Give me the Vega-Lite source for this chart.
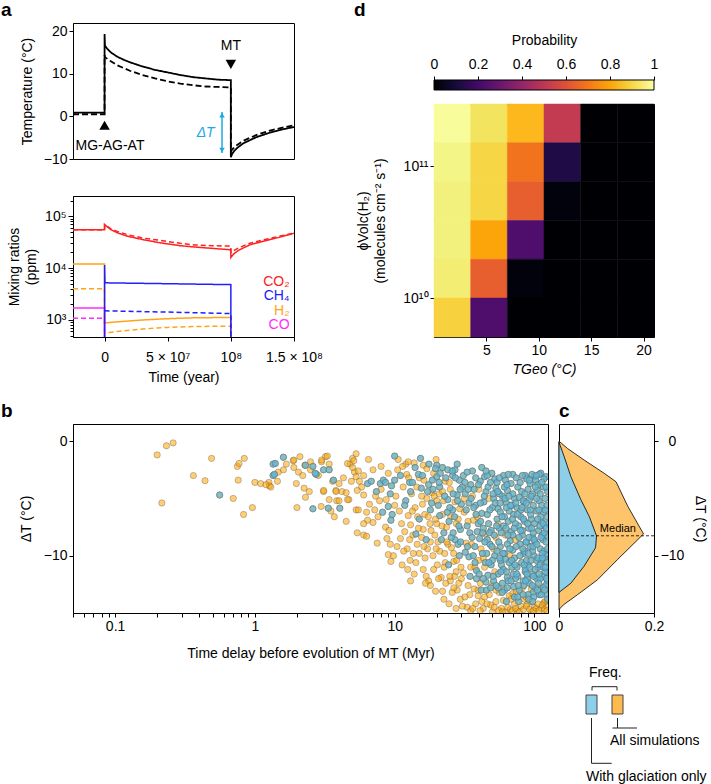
{
"$schema":"https://vega.github.io/schema/vega-lite/v6.json",
"padding":0,
"background":"white",
"config":{
 "font":"Liberation Sans",
 "view":{"stroke":"black","strokeWidth":1},
 "axis":{"grid":false,"domainColor":"black","tickColor":"black","labelColor":"black","titleColor":"black","labelFontSize":14,"titleFontSize":14,"titleFontWeight":"normal","tickSize":4,"labelPadding":2,"titlePadding":4,"labelFont":"Liberation Sans","titleFont":"Liberation Sans","labelFlush":false,"labelOverlap":false},
 "title":{"fontSize":19,"fontWeight":"bold","anchor":"start","frame":"group","baseline":"alphabetic","offset":3,"color":"black","font":"Liberation Sans"}
},
"datasets":{
 "temp":[
  {"s":"a","i":0,"t":-25000000,"v":0.9},{"s":"a","i":1,"t":0,"v":0.9},{"s":"a","i":2,"t":0,"v":19.3},{"s":"a","i":3,"t":300000,"v":16.6},{"s":"a","i":4,"t":2000000,"v":15.9},{"s":"a","i":5,"t":5000000,"v":15.0},{"s":"a","i":6,"t":10000000,"v":14.0},{"s":"a","i":7,"t":15000000,"v":13.3},{"s":"a","i":8,"t":20000000,"v":12.7},{"s":"a","i":9,"t":30000000,"v":11.7},{"s":"a","i":10,"t":40000000,"v":10.9},{"s":"a","i":11,"t":50000000,"v":10.3},{"s":"a","i":12,"t":60000000,"v":9.7},{"s":"a","i":13,"t":70000000,"v":9.2},{"s":"a","i":14,"t":80000000,"v":8.9},{"s":"a","i":15,"t":90000000,"v":8.6},{"s":"a","i":16,"t":100000000,"v":8.5},{"s":"a","i":17,"t":100000000,"v":-9.6},{"s":"a","i":18,"t":101000000,"v":-8.8},{"s":"a","i":19,"t":103000000,"v":-8.0},{"s":"a","i":20,"t":105000000,"v":-7.4},{"s":"a","i":21,"t":110000000,"v":-6.3},{"s":"a","i":22,"t":120000000,"v":-4.9},{"s":"a","i":23,"t":130000000,"v":-3.9},{"s":"a","i":24,"t":140000000,"v":-3.1},{"s":"a","i":25,"t":150000000,"v":-2.5},
  {"s":"b","i":0,"t":-25000000,"v":0.5},{"s":"b","i":1,"t":0,"v":0.5},{"s":"b","i":2,"t":0,"v":14.4},{"s":"b","i":3,"t":300000,"v":13.9},{"s":"b","i":4,"t":5000000,"v":12.9},{"s":"b","i":5,"t":10000000,"v":12.0},{"s":"b","i":6,"t":20000000,"v":10.7},{"s":"b","i":7,"t":30000000,"v":9.7},{"s":"b","i":8,"t":40000000,"v":8.9},{"s":"b","i":9,"t":50000000,"v":8.2},{"s":"b","i":10,"t":60000000,"v":7.7},{"s":"b","i":11,"t":70000000,"v":7.3},{"s":"b","i":12,"t":80000000,"v":7.0},{"s":"b","i":13,"t":90000000,"v":6.9},{"s":"b","i":14,"t":100000000,"v":6.8},{"s":"b","i":15,"t":100000000,"v":-8.3},{"s":"b","i":16,"t":101000000,"v":-7.8},{"s":"b","i":17,"t":103000000,"v":-7.2},{"s":"b","i":18,"t":105000000,"v":-6.7},{"s":"b","i":19,"t":110000000,"v":-5.7},{"s":"b","i":20,"t":120000000,"v":-4.4},{"s":"b","i":21,"t":130000000,"v":-3.4},{"s":"b","i":22,"t":140000000,"v":-2.7},{"s":"b","i":23,"t":150000000,"v":-2.1}
 ],
 "mix":[
  {"sp":"H2","ls":"s","i":0,"t":-25000000,"v":12000},{"sp":"H2","ls":"s","i":1,"t":0,"v":12000},{"sp":"H2","ls":"s","i":2,"t":0,"v":880},{"sp":"H2","ls":"s","i":3,"t":10000000,"v":920},{"sp":"H2","ls":"s","i":4,"t":30000000,"v":1000},{"sp":"H2","ls":"s","i":5,"t":50000000,"v":1060},{"sp":"H2","ls":"s","i":6,"t":70000000,"v":1100},{"sp":"H2","ls":"s","i":7,"t":100000000,"v":1120},{"sp":"H2","ls":"s","i":8,"t":100000000,"v":1},
  {"sp":"H2","ls":"d","i":0,"t":-25000000,"v":4000},{"sp":"H2","ls":"d","i":1,"t":0,"v":4000},{"sp":"H2","ls":"d","i":2,"t":0,"v":560},{"sp":"H2","ls":"d","i":3,"t":10000000,"v":600},{"sp":"H2","ls":"d","i":4,"t":30000000,"v":670},{"sp":"H2","ls":"d","i":5,"t":50000000,"v":720},{"sp":"H2","ls":"d","i":6,"t":70000000,"v":750},{"sp":"H2","ls":"d","i":7,"t":100000000,"v":760},{"sp":"H2","ls":"d","i":8,"t":100000000,"v":1},
  {"sp":"CO","ls":"s","i":0,"t":-25000000,"v":1700},{"sp":"CO","ls":"s","i":1,"t":0,"v":1700},{"sp":"CO","ls":"s","i":2,"t":0,"v":1},
  {"sp":"CO","ls":"d","i":0,"t":-25000000,"v":1080},{"sp":"CO","ls":"d","i":1,"t":0,"v":1080},{"sp":"CO","ls":"d","i":2,"t":0,"v":1},
  {"sp":"CO2","ls":"s","i":0,"t":-25000000,"v":55000},{"sp":"CO2","ls":"s","i":1,"t":0,"v":55000},{"sp":"CO2","ls":"s","i":2,"t":0,"v":69000},{"sp":"CO2","ls":"s","i":3,"t":2000000,"v":63000},{"sp":"CO2","ls":"s","i":4,"t":5000000,"v":55000},{"sp":"CO2","ls":"s","i":5,"t":10000000,"v":48000},{"sp":"CO2","ls":"s","i":6,"t":18300000,"v":41000},{"sp":"CO2","ls":"s","i":7,"t":30000000,"v":35500},{"sp":"CO2","ls":"s","i":8,"t":44700000,"v":30500},{"sp":"CO2","ls":"s","i":9,"t":60000000,"v":27000},{"sp":"CO2","ls":"s","i":10,"t":71000000,"v":25500},{"sp":"CO2","ls":"s","i":11,"t":85000000,"v":24000},{"sp":"CO2","ls":"s","i":12,"t":100000000,"v":22500},{"sp":"CO2","ls":"s","i":13,"t":100000000,"v":16000},{"sp":"CO2","ls":"s","i":14,"t":102000000,"v":18500},{"sp":"CO2","ls":"s","i":15,"t":106000000,"v":22000},{"sp":"CO2","ls":"s","i":16,"t":115000000,"v":28000},{"sp":"CO2","ls":"s","i":17,"t":126000000,"v":33000},{"sp":"CO2","ls":"s","i":18,"t":138000000,"v":39000},{"sp":"CO2","ls":"s","i":19,"t":150000000,"v":47000},
  {"sp":"CO2","ls":"d","i":0,"t":-25000000,"v":55000},{"sp":"CO2","ls":"d","i":1,"t":0,"v":55000},{"sp":"CO2","ls":"d","i":2,"t":0,"v":69000},{"sp":"CO2","ls":"d","i":3,"t":2000000,"v":64000},{"sp":"CO2","ls":"d","i":4,"t":5000000,"v":57000},{"sp":"CO2","ls":"d","i":5,"t":10000000,"v":51000},{"sp":"CO2","ls":"d","i":6,"t":18300000,"v":44000},{"sp":"CO2","ls":"d","i":7,"t":30000000,"v":38000},{"sp":"CO2","ls":"d","i":8,"t":44700000,"v":34000},{"sp":"CO2","ls":"d","i":9,"t":60000000,"v":30000},{"sp":"CO2","ls":"d","i":10,"t":71000000,"v":28000},{"sp":"CO2","ls":"d","i":11,"t":85000000,"v":27000},{"sp":"CO2","ls":"d","i":12,"t":100000000,"v":26500},{"sp":"CO2","ls":"d","i":13,"t":100000000,"v":20000},{"sp":"CO2","ls":"d","i":14,"t":102000000,"v":21500},{"sp":"CO2","ls":"d","i":15,"t":106000000,"v":24500},{"sp":"CO2","ls":"d","i":16,"t":115000000,"v":30000},{"sp":"CO2","ls":"d","i":17,"t":126000000,"v":35000},{"sp":"CO2","ls":"d","i":18,"t":138000000,"v":41000},{"sp":"CO2","ls":"d","i":19,"t":150000000,"v":47000},
  {"sp":"CH4","ls":"s","i":0,"t":0,"v":1},{"sp":"CH4","ls":"s","i":1,"t":0,"v":11500},{"sp":"CH4","ls":"s","i":2,"t":300000,"v":5200},{"sp":"CH4","ls":"s","i":3,"t":50000000,"v":5000},{"sp":"CH4","ls":"s","i":4,"t":100000000,"v":4800},{"sp":"CH4","ls":"s","i":5,"t":100000000,"v":1},
  {"sp":"CH4","ls":"d","i":0,"t":0,"v":1500},{"sp":"CH4","ls":"d","i":1,"t":50000000,"v":1420},{"sp":"CH4","ls":"d","i":2,"t":100000000,"v":1330},{"sp":"CH4","ls":"d","i":3,"t":100000000,"v":1}
 ],
 "heat":[
  {"x0":0,"x1":3.5,"y0":1.51e11,"y1":2.97e11,"p":0.99},{"x0":3.5,"x1":7,"y0":1.51e11,"y1":2.97e11,"p":0.93},{"x0":7,"x1":10.5,"y0":1.51e11,"y1":2.97e11,"p":0.84},{"x0":10.5,"x1":14,"y0":1.51e11,"y1":2.97e11,"p":0.52},{"x0":14,"x1":17.5,"y0":1.51e11,"y1":2.97e11,"p":0},{"x0":17.5,"x1":21,"y0":1.51e11,"y1":2.97e11,"p":0},
  {"x0":0,"x1":3.5,"y0":7.65e10,"y1":1.51e11,"p":0.97},{"x0":3.5,"x1":7,"y0":7.65e10,"y1":1.51e11,"p":0.9},{"x0":7,"x1":10.5,"y0":7.65e10,"y1":1.51e11,"p":0.69},{"x0":10.5,"x1":14,"y0":7.65e10,"y1":1.51e11,"p":0.12},{"x0":14,"x1":17.5,"y0":7.65e10,"y1":1.51e11,"p":0},{"x0":17.5,"x1":21,"y0":7.65e10,"y1":1.51e11,"p":0},
  {"x0":0,"x1":3.5,"y0":3.88e10,"y1":7.65e10,"p":0.96},{"x0":3.5,"x1":7,"y0":3.88e10,"y1":7.65e10,"p":0.9},{"x0":7,"x1":10.5,"y0":3.88e10,"y1":7.65e10,"p":0.64},{"x0":10.5,"x1":14,"y0":3.88e10,"y1":7.65e10,"p":0.02},{"x0":14,"x1":17.5,"y0":3.88e10,"y1":7.65e10,"p":0},{"x0":17.5,"x1":21,"y0":3.88e10,"y1":7.65e10,"p":0},
  {"x0":0,"x1":3.5,"y0":1.97e10,"y1":3.88e10,"p":0.96},{"x0":3.5,"x1":7,"y0":1.97e10,"y1":3.88e10,"p":0.8},{"x0":7,"x1":10.5,"y0":1.97e10,"y1":3.88e10,"p":0.23},{"x0":10.5,"x1":14,"y0":1.97e10,"y1":3.88e10,"p":0},{"x0":14,"x1":17.5,"y0":1.97e10,"y1":3.88e10,"p":0},{"x0":17.5,"x1":21,"y0":1.97e10,"y1":3.88e10,"p":0},
  {"x0":0,"x1":3.5,"y0":1e10,"y1":1.97e10,"p":0.95},{"x0":3.5,"x1":7,"y0":1e10,"y1":1.97e10,"p":0.64},{"x0":7,"x1":10.5,"y0":1e10,"y1":1.97e10,"p":0.02},{"x0":10.5,"x1":14,"y0":1e10,"y1":1.97e10,"p":0},{"x0":14,"x1":17.5,"y0":1e10,"y1":1.97e10,"p":0},{"x0":17.5,"x1":21,"y0":1e10,"y1":1.97e10,"p":0},
  {"x0":0,"x1":3.5,"y0":5.07e9,"y1":1e10,"p":0.89},{"x0":3.5,"x1":7,"y0":5.07e9,"y1":1e10,"p":0.23},{"x0":7,"x1":10.5,"y0":5.07e9,"y1":1e10,"p":0},{"x0":10.5,"x1":14,"y0":5.07e9,"y1":1e10,"p":0},{"x0":14,"x1":17.5,"y0":5.07e9,"y1":1e10,"p":0},{"x0":17.5,"x1":21,"y0":5.07e9,"y1":1e10,"p":0}
 ],
 "pts":[
  {"t":0.2,"d":-1.2,"g":0},{"t":0.233,"d":-0.4,"g":0},{"t":0.26,"d":-0.15,"g":0},{"t":0.216,"d":-5.4,"g":0},{"t":0.363,"d":-3.0,"g":0},{"t":0.44,"d":-3.45,"g":0},{"t":0.49,"d":-1.5,"g":0},{"t":0.56,"d":-4.7,"g":1},{"t":0.7,"d":-5.0,"g":0},{"t":0.75,"d":-2.2,"g":0},{"t":0.77,"d":-1.95,"g":0},{"t":0.84,"d":-1.5,"g":0},{"t":0.76,"d":-3.4,"g":0},{"t":0.83,"d":-6.4,"g":0},{"t":0.96,"d":-5.8,"g":0},
  {"t":1.0,"d":-3.6,"g":0},{"t":1.1,"d":-3.7,"g":0},{"t":1.26,"d":-3.6,"g":0},{"t":1.27,"d":-3.9,"g":0},{"t":1.35,"d":-2.0,"g":1},{"t":1.35,"d":-3.0,"g":1},{"t":1.6,"d":-1.4,"g":1},{"t":1.45,"d":-3.5,"g":0},{"t":1.47,"d":-2.7,"g":0},{"t":1.6,"d":-2.5,"g":0},{"t":1.68,"d":-2.0,"g":0},{"t":1.88,"d":-1.7,"g":0},{"t":1.9,"d":-2.3,"g":0},{"t":1.98,"d":-3.7,"g":0},{"t":2.0,"d":-5.8,"g":0},{"t":2.05,"d":-2.7,"g":0},{"t":2.25,"d":-4.1,"g":0},{"t":2.28,"d":-2.1,"g":0},{"t":2.3,"d":-4.9,"g":0},{"t":2.45,"d":-4.4,"g":0},{"t":2.5,"d":-2.5,"g":0},{"t":2.6,"d":-5.9,"g":1},{"t":2.3,"d":-2.1,"g":1},{"t":2.6,"d":-2.2,"g":1},{"t":2.75,"d":-2.9,"g":1},{"t":2.85,"d":-3.0,"g":0},{"t":2.98,"d":-5.7,"g":0},{"t":3.0,"d":-1.8,"g":0},{"t":3.1,"d":-4.4,"g":0},{"t":3.1,"d":-2.5,"g":1},{"t":3.2,"d":-1.35,"g":0},{"t":3.4,"d":-2.0,"g":0},{"t":3.35,"d":-5.85,"g":1},{"t":3.5,"d":-6.1,"g":0},{"t":3.4,"d":-2.5,"g":1},{"t":3.6,"d":-3.5,"g":0},{"t":3.65,"d":-3.4,"g":1},{"t":3.7,"d":-6.6,"g":0},{"t":3.8,"d":-4.3,"g":0},{"t":3.85,"d":-5.2,"g":0},{"t":4.0,"d":-3.7,"g":0},{"t":4.05,"d":-5.85,"g":1},{"t":4.2,"d":-4.4,"g":0},{"t":4.5,"d":-7.0,"g":0},{"t":4.7,"d":-5.1,"g":0},{"t":4.8,"d":-2.0,"g":0},{"t":5.0,"d":-1.5,"g":0},{"t":5.15,"d":-2.7,"g":0},{"t":5.4,"d":-8.0,"g":0},{"t":5.3,"d":-6.0,"g":0},{"t":3.1,"d":-4.3,"g":0},{"t":3.4,"d":-5.1,"g":0},{"t":4.0,"d":-5.2,"g":0},{"t":4.6,"d":-5.1,"g":0},{"t":2.1,"d":-1.35,"g":0},{"t":2.5,"d":-1.8,"g":0},{"t":1.9,"d":-1.65,"g":0},{"t":2.7,"d":-2.8,"g":1},{"t":3.0,"d":-1.65,"g":0},{"t":3.3,"d":-1.3,"g":0},{"t":4.6,"d":-1.95,"g":0},{"t":4.5,"d":-4.5,"g":0},{"t":3.8,"d":-4.4,"g":0},{"t":1.4,"d":-1.95,"g":1},{"t":1.38,"d":-2.9,"g":1},{"t":1.3,"d":-4.0,"g":0},{"t":1.2,"d":-3.8,"g":0},{"t":2.2,"d":-3.0,"g":0},{"t":4.3,"d":-3.2,"g":0},{"t":4.9,"d":-3.5,"g":0},
  {"t":5.0,"d":-2.3,"g":0},{"t":5.5,"d":-2.6,"g":0},{"t":5.3,"d":-3.1,"g":0},{"t":5.6,"d":-3.5,"g":0},{"t":5.8,"d":-4.0,"g":0},{"t":5.4,"d":-4.3,"g":0},{"t":6.4,"d":-3.7,"g":1},{"t":6.8,"d":-3.5,"g":1},{"t":7.4,"d":-4.4,"g":1},{"t":7.9,"d":-3.7,"g":1},{"t":8.3,"d":-3.4,"g":1},{"t":8.6,"d":-3.6,"g":1},{"t":6.0,"d":-4.7,"g":0},{"t":6.6,"d":-5.5,"g":0},{"t":7.3,"d":-4.8,"g":0},{"t":7.8,"d":-5.2,"g":0},{"t":5.5,"d":-6.0,"g":0},{"t":6.3,"d":-6.2,"g":0},{"t":7.2,"d":-6.0,"g":0},{"t":6.4,"d":-6.9,"g":0},{"t":6.0,"d":-7.2,"g":0},{"t":7.0,"d":-7.1,"g":0},{"t":6.0,"d":-8.2,"g":0},{"t":6.3,"d":-8.3,"g":0},{"t":9.0,"d":-5.7,"g":1},{"t":9.6,"d":-6.4,"g":1},{"t":9.4,"d":-6.9,"g":1},{"t":8.6,"d":-7.5,"g":0},{"t":9.1,"d":-7.8,"g":0},{"t":7.5,"d":-8.9,"g":0},{"t":9.0,"d":-9.9,"g":0},{"t":9.8,"d":-10.0,"g":0},{"t":9.4,"d":-10.5,"g":0},{"t":10.0,"d":-1.3,"g":1},{"t":10.0,"d":-3.4,"g":1},{"t":10.0,"d":-5.6,"g":0},{"t":5.3,"d":-1.1,"g":0},{"t":5.1,"d":-1.7,"g":0},{"t":6.5,"d":-1.6,"g":0},{"t":7.0,"d":-2.5,"g":0},{"t":8.0,"d":-2.2,"g":0},{"t":9.0,"d":-2.8,"g":0},{"t":6.0,"d":-3.0,"g":0},{"t":8.0,"d":-4.2,"g":0},{"t":9.3,"d":-4.6,"g":1},{"t":8.7,"d":-5.1,"g":0},{"t":9.5,"d":-3.9,"g":1},{"t":8.2,"d":-6.2,"g":1},{"t":7.6,"d":-6.6,"g":0},{"t":8.8,"d":-8.5,"g":0},{"t":9.3,"d":-9.0,"g":0},
  {"t":10.5,"d":-2.5,"g":0},{"t":11,"d":-3.0,"g":1},{"t":11.3,"d":-10.8,"g":0},{"t":11.5,"d":-4.0,"g":0},{"t":12,"d":-2.0,"g":0},{"t":12,"d":-5.2,"g":1},{"t":12.5,"d":-6.5,"g":0},{"t":12.8,"d":-3.6,"g":1},{"t":13,"d":-7.3,"g":0},{"t":13.5,"d":-8.2,"g":0},{"t":13.2,"d":-4.6,"g":0},{"t":14,"d":-2.3,"g":1},{"t":14,"d":-5.8,"g":0},{"t":14.5,"d":-9.0,"g":0},{"t":15,"d":-3.2,"g":0},{"t":15,"d":-6.8,"g":1},{"t":15.5,"d":-4.1,"g":1},{"t":16,"d":-2.1,"g":0},{"t":16,"d":-7.7,"g":0},{"t":16.5,"d":-10.2,"g":0},{"t":17,"d":-2.4,"g":0},{"t":17,"d":-5.0,"g":0},{"t":17.5,"d":-12.2,"g":0},{"t":17.5,"d":-3.8,"g":1},{"t":18,"d":-6.0,"g":1},{"t":18,"d":-8.8,"g":0},{"t":18.5,"d":-4.5,"g":0},{"t":19,"d":-11.2,"g":0},{"t":19.6,"d":-13.1,"g":0},{"t":20,"d":-2.1,"g":1},{"t":20,"d":-3.1,"g":1},{"t":20,"d":-7.2,"g":0},{"t":20.5,"d":-5.6,"g":1},{"t":21,"d":-9.6,"g":0},{"t":21,"d":-4.0,"g":1},{"t":22,"d":-13.1,"g":0},{"t":22,"d":-2.3,"g":1},{"t":22,"d":-6.4,"g":0},{"t":22.5,"d":-8.0,"g":1},{"t":23,"d":-3.5,"g":0},{"t":23,"d":-10.6,"g":0},{"t":24,"d":-2.5,"g":1},{"t":24,"d":-5.1,"g":1},{"t":24.5,"d":-7.0,"g":1},{"t":25,"d":-12.2,"g":0},{"t":25,"d":-4.2,"g":0},{"t":25.5,"d":-9.3,"g":0},{"t":26,"d":-3.0,"g":1},{"t":26,"d":-6.0,"g":1},{"t":27,"d":-2.5,"g":1},{"t":27,"d":-8.6,"g":1},{"t":27.5,"d":-11.4,"g":0},{"t":28,"d":-4.7,"g":1},{"t":28,"d":-13.0,"g":0},{"t":28.5,"d":-6.8,"g":0},{"t":29,"d":-3.4,"g":1},{"t":29,"d":-10.0,"g":1},{"t":29.5,"d":-7.7,"g":1},{"t":30,"d":-5.5,"g":1},{"t":30,"d":-12.0,"g":0},{"t":10.8,"d":-6.1,"g":0},{"t":11.8,"d":-7.9,"g":0},{"t":12.3,"d":-9.4,"g":0},{"t":13.8,"d":-11.6,"g":0},{"t":15.8,"d":-5.5,"g":0},{"t":16.8,"d":-8.6,"g":1},{"t":18.8,"d":-10.0,"g":0},{"t":19.2,"d":-4.8,"g":0},{"t":21.5,"d":-11.9,"g":0},{"t":23.5,"d":-7.5,"g":0},{"t":26.5,"d":-10.5,"g":0},{"t":14.8,"d":-2.9,"g":1},{"t":13,"d":-4.4,"g":1},{"t":19,"d":-2.8,"g":0},{"t":24,"d":-9.0,"g":0},{"t":27,"d":-5.3,"g":0},{"t":21,"d":-6.5,"g":1},{"t":18,"d":-12.6,"g":0},{"t":16,"d":-11.2,"g":0},{"t":12.2,"d":-2.9,"g":0},
  {"t":10.2,"d":-4.8,"g":0},{"t":11,"d":-8.5,"g":0},{"t":11.8,"d":-5.6,"g":1},{"t":12.6,"d":-3.2,"g":0},{"t":13.4,"d":-6.1,"g":0},{"t":14.2,"d":-8.1,"g":1},{"t":15,"d":-9.8,"g":0},{"t":15.6,"d":-4.8,"g":0},{"t":16.4,"d":-6.4,"g":0},{"t":17.2,"d":-9.4,"g":0},{"t":17.9,"d":-7.2,"g":0},{"t":18.6,"d":-3.4,"g":1},{"t":19.4,"d":-8.2,"g":0},{"t":20.2,"d":-10.8,"g":0},{"t":20.8,"d":-4.6,"g":0},{"t":21.6,"d":-8.6,"g":1},{"t":22.4,"d":-5.2,"g":0},{"t":23.2,"d":-12.4,"g":0},{"t":23.8,"d":-6.2,"g":1},{"t":24.6,"d":-3.6,"g":0},{"t":25.4,"d":-8.4,"g":1},{"t":26.2,"d":-4.6,"g":1},{"t":26.8,"d":-11.8,"g":0},{"t":27.6,"d":-7.2,"g":0},{"t":28.4,"d":-9.0,"g":1},{"t":29.2,"d":-5.9,"g":0},{"t":29.8,"d":-11.0,"g":0},{"t":25.8,"d":-13.2,"g":0},{"t":22.8,"d":-9.8,"g":0},{"t":18.4,"d":-5.4,"g":1},{"t":14.6,"d":-6.6,"g":0},{"t":12.9,"d":-10.4,"g":0},{"t":16.6,"d":-12.4,"g":0},{"t":20.6,"d":-12.0,"g":0},{"t":24.3,"d":-10.8,"g":1},{"t":27.2,"d":-3.2,"g":1},{"t":29.6,"d":-8.8,"g":1},{"t":21.2,"d":-2.8,"g":1},{"t":17.6,"d":-2.0,"g":1},{"t":13.8,"d":-1.9,"g":0},{"t":15.3,"d":-1.5,"g":1},{"t":19.8,"d":-1.6,"g":0},{"t":12.5,"d":-1.8,"g":0},{"t":10.6,"d":-1.6,"g":0},
  {"t":31,"d":-3.0,"g":1},{"t":32,"d":-4.6,"g":1},{"t":31.5,"d":-6.2,"g":0},{"t":33,"d":-7.4,"g":1},{"t":32.5,"d":-8.9,"g":0},{"t":34,"d":-10.1,"g":1},{"t":31,"d":-11.5,"g":0},{"t":33.5,"d":-12.6,"g":0},{"t":33,"d":-14.5,"g":0},{"t":35,"d":-14.8,"g":0},{"t":34,"d":-5.4,"g":1},{"t":35,"d":-3.8,"g":1},{"t":32,"d":-9.7,"g":1},{"t":35,"d":-11.0,"g":0},{"t":34.5,"d":-13.4,"g":0},
  {"t":36,"d":-2.6,"g":1},{"t":37,"d":-4.2,"g":1},{"t":38,"d":-5.6,"g":1},{"t":36.5,"d":-6.9,"g":0},{"t":39,"d":-7.9,"g":1},{"t":37.5,"d":-9.2,"g":1},{"t":40,"d":-10.4,"g":0},{"t":38.5,"d":-11.3,"g":1},{"t":41,"d":-12.4,"g":0},{"t":39.5,"d":-13.5,"g":0},{"t":42,"d":-2.3,"g":1},{"t":41,"d":-3.5,"g":1},{"t":42,"d":-6.3,"g":1},{"t":40.5,"d":-8.5,"g":1},{"t":37,"d":-12.9,"g":0},{"t":42,"d":-14.0,"g":0},
  {"t":44,"d":-3.1,"g":1},{"t":45,"d":-4.4,"g":1},{"t":43.5,"d":-5.3,"g":1},{"t":46,"d":-6.4,"g":1},{"t":47,"d":-7.2,"g":1},{"t":44.5,"d":-8.1,"g":0},{"t":48,"d":-9.0,"g":1},{"t":45.5,"d":-9.8,"g":1},{"t":49,"d":-10.8,"g":1},{"t":46.5,"d":-11.7,"g":1},{"t":50,"d":-12.6,"g":0},{"t":47.5,"d":-13.4,"g":0},{"t":48.5,"d":-14.3,"g":0},{"t":50,"d":-14.9,"g":0},{"t":49.5,"d":-2.8,"g":1},{"t":43,"d":-10.2,"g":0},{"t":50,"d":-5.8,"g":1},{"t":45,"d":-12.3,"g":1},
  {"t":52,"d":-3.3,"g":1},{"t":53,"d":-4.1,"g":1},{"t":51,"d":-5.0,"g":1},{"t":55,"d":-5.9,"g":1},{"t":54,"d":-6.8,"g":1},{"t":56,"d":-7.6,"g":1},{"t":53,"d":-8.4,"g":0},{"t":57,"d":-9.2,"g":1},{"t":52,"d":-10.0,"g":1},{"t":58,"d":-10.8,"g":1},{"t":55,"d":-11.6,"g":1},{"t":59,"d":-12.4,"g":1},{"t":56,"d":-13.2,"g":0},{"t":60,"d":-13.9,"g":0},{"t":58,"d":-14.6,"g":0},{"t":60,"d":-3.0,"g":1},{"t":59,"d":-4.8,"g":1},{"t":57,"d":-6.2,"g":1},{"t":54,"d":-9.6,"g":1},{"t":60,"d":-11.2,"g":1},
  {"t":62,"d":-3.4,"g":1},{"t":64,"d":-4.3,"g":1},{"t":63,"d":-5.4,"g":1},{"t":66,"d":-6.1,"g":1},{"t":65,"d":-7.0,"g":1},{"t":68,"d":-7.9,"g":1},{"t":67,"d":-8.7,"g":1},{"t":70,"d":-9.5,"g":1},{"t":62,"d":-10.3,"g":1},{"t":69,"d":-11.0,"g":1},{"t":64,"d":-11.9,"g":1},{"t":71,"d":-12.7,"g":1},{"t":66,"d":-13.5,"g":0},{"t":72,"d":-14.2,"g":0},{"t":63,"d":-14.0,"g":1},{"t":70,"d":-2.9,"g":1},{"t":72,"d":-5.0,"g":1},{"t":61,"d":-6.6,"g":1},{"t":67,"d":-10.0,"g":0},{"t":70,"d":-13.3,"g":0},
  {"t":74,"d":-3.2,"g":1},{"t":76,"d":-4.0,"g":1},{"t":78,"d":-4.9,"g":1},{"t":75,"d":-5.8,"g":1},{"t":80,"d":-6.6,"g":1},{"t":77,"d":-7.4,"g":1},{"t":82,"d":-8.2,"g":1},{"t":79,"d":-9.0,"g":1},{"t":84,"d":-9.8,"g":1},{"t":81,"d":-10.6,"g":1},{"t":86,"d":-11.4,"g":1},{"t":83,"d":-12.2,"g":1},{"t":78,"d":-13.0,"g":1},{"t":85,"d":-13.8,"g":0},{"t":80,"d":-14.4,"g":0},{"t":86,"d":-3.0,"g":1},{"t":84,"d":-5.3,"g":1},{"t":73,"d":-8.6,"g":0},{"t":76,"d":-11.8,"g":1},{"t":82,"d":-12.8,"g":0},
  {"t":88,"d":-3.3,"g":1},{"t":90,"d":-4.2,"g":1},{"t":92,"d":-5.1,"g":1},{"t":89,"d":-6.0,"g":1},{"t":95,"d":-6.8,"g":1},{"t":91,"d":-7.6,"g":1},{"t":97,"d":-8.4,"g":1},{"t":93,"d":-9.2,"g":1},{"t":99,"d":-10.0,"g":1},{"t":90,"d":-10.8,"g":1},{"t":96,"d":-11.6,"g":1},{"t":92,"d":-12.4,"g":1},{"t":98,"d":-13.2,"g":1},{"t":94,"d":-14.0,"g":0},{"t":100,"d":-14.5,"g":0},{"t":100,"d":-3.1,"g":1},{"t":97,"d":-4.6,"g":1},{"t":88,"d":-8.8,"g":1},{"t":95,"d":-12.9,"g":0},{"t":87,"d":-13.6,"g":0},
  {"t":102,"d":-3.4,"g":1},{"t":105,"d":-4.3,"g":1},{"t":108,"d":-5.2,"g":1},{"t":104,"d":-6.1,"g":1},{"t":112,"d":-7.0,"g":1},{"t":107,"d":-7.8,"g":1},{"t":115,"d":-8.6,"g":1},{"t":110,"d":-9.4,"g":1},{"t":118,"d":-10.2,"g":1},{"t":106,"d":-11.0,"g":1},{"t":114,"d":-11.8,"g":1},{"t":120,"d":-12.6,"g":1},{"t":109,"d":-13.4,"g":1},{"t":117,"d":-14.1,"g":0},{"t":122,"d":-14.4,"g":0},{"t":121,"d":-3.1,"g":1},{"t":119,"d":-5.0,"g":1},{"t":123,"d":-6.6,"g":1},{"t":116,"d":-4.0,"g":1},{"t":122,"d":-8.2,"g":1},{"t":120,"d":-9.9,"g":1},{"t":123,"d":-11.5,"g":1},{"t":113,"d":-12.9,"g":0},{"t":103,"d":-14.6,"g":0},{"t":111,"d":-2.8,"g":1},
  {"t":30.5,"d":-4.0,"g":1},{"t":31.5,"d":-5.0,"g":0},{"t":32.5,"d":-6.0,"g":1},{"t":33.5,"d":-7.0,"g":0},{"t":34.5,"d":-8.0,"g":1},{"t":35.5,"d":-9.0,"g":0},{"t":36.5,"d":-10.0,"g":1},{"t":37.5,"d":-11.0,"g":0},{"t":38.5,"d":-12.0,"g":1},{"t":39.5,"d":-13.0,"g":0},{"t":36,"d":-4.8,"g":0},{"t":38,"d":-3.2,"g":1},{"t":40,"d":-4.2,"g":0},{"t":41,"d":-5.4,"g":1},{"t":39,"d":-6.6,"g":0},{"t":43,"d":-7.6,"g":1},{"t":41.5,"d":-9.4,"g":0},{"t":44,"d":-11.0,"g":0},{"t":43,"d":-12.0,"g":1},{"t":44,"d":-13.6,"g":0},{"t":46,"d":-3.0,"g":1},{"t":47,"d":-5.0,"g":0},{"t":48,"d":-6.0,"g":1},{"t":49,"d":-7.8,"g":1},{"t":46,"d":-8.6,"g":1},{"t":51,"d":-9.4,"g":0},{"t":50,"d":-10.4,"g":1},{"t":52,"d":-11.4,"g":0},{"t":51,"d":-12.2,"g":1},{"t":53,"d":-13.0,"g":0},{"t":54,"d":-3.6,"g":1},{"t":56,"d":-4.6,"g":1},{"t":55,"d":-7.2,"g":0},{"t":58,"d":-8.0,"g":1},{"t":57,"d":-10.4,"g":1},{"t":55,"d":-12.8,"g":1},{"t":53,"d":-14.0,"g":0},{"t":61,"d":-4.0,"g":1},{"t":63,"d":-5.8,"g":1},{"t":60,"d":-7.4,"g":1},{"t":62,"d":-8.2,"g":0},{"t":64,"d":-9.0,"g":1},{"t":61,"d":-9.8,"g":1},{"t":66,"d":-10.6,"g":1},{"t":63,"d":-11.4,"g":1},{"t":65,"d":-12.2,"g":1},{"t":61,"d":-13.0,"g":1},{"t":68,"d":-13.8,"g":0},{"t":67,"d":-14.7,"g":0},{"t":68,"d":-3.7,"g":1},{"t":70,"d":-4.6,"g":1},{"t":69,"d":-5.6,"g":1},{"t":71,"d":-6.4,"g":1},{"t":73,"d":-7.2,"g":1},{"t":70,"d":-8.2,"g":1},{"t":74,"d":-9.2,"g":1},{"t":72,"d":-10.2,"g":1},{"t":75,"d":-11.0,"g":1},{"t":73,"d":-12.0,"g":1},{"t":74,"d":-13.2,"g":0},{"t":77,"d":-14.0,"g":1},{"t":79,"d":-3.6,"g":1},{"t":81,"d":-4.4,"g":1},{"t":83,"d":-5.2,"g":1},{"t":80,"d":-6.0,"g":1},{"t":85,"d":-7.0,"g":1},{"t":82,"d":-7.8,"g":1},{"t":87,"d":-8.8,"g":1},{"t":85,"d":-9.6,"g":1},{"t":88,"d":-10.4,"g":1},{"t":86,"d":-11.2,"g":1},{"t":89,"d":-12.0,"g":1},{"t":84,"d":-12.6,"g":1},{"t":90,"d":-13.4,"g":1},{"t":89,"d":-14.2,"g":0},{"t":93,"d":-3.7,"g":1},{"t":95,"d":-4.8,"g":1},{"t":98,"d":-5.6,"g":1},{"t":94,"d":-6.4,"g":1},{"t":100,"d":-7.2,"g":1},{"t":98,"d":-8.0,"g":1},{"t":101,"d":-8.8,"g":1},{"t":97,"d":-9.6,"g":1},{"t":103,"d":-10.4,"g":1},{"t":101,"d":-11.2,"g":1},{"t":104,"d":-12.0,"g":1},{"t":102,"d":-12.8,"g":1},{"t":99,"d":-13.6,"g":1},{"t":106,"d":-14.2,"g":0},{"t":106,"d":-3.8,"g":1},{"t":110,"d":-4.6,"g":1},{"t":113,"d":-5.6,"g":1},{"t":116,"d":-6.2,"g":1},{"t":111,"d":-6.6,"g":1},{"t":118,"d":-7.4,"g":1},{"t":114,"d":-8.2,"g":1},{"t":121,"d":-8.8,"g":1},{"t":117,"d":-9.6,"g":1},{"t":112,"d":-10.4,"g":1},{"t":123,"d":-10.6,"g":1},{"t":119,"d":-11.4,"g":1},{"t":110,"d":-12.0,"g":1},{"t":116,"d":-12.8,"g":1},{"t":123,"d":-13.4,"g":1},{"t":119,"d":-14.0,"g":0},{"t":112,"d":-14.6,"g":0},{"t":124,"d":-4.4,"g":1},{"t":124,"d":-7.2,"g":1},{"t":124,"d":-12.2,"g":1},{"t":108,"d":-2.9,"g":1},{"t":96,"d":-2.9,"g":1},{"t":82,"d":-3.0,"g":1},{"t":65,"d":-2.9,"g":1},{"t":56,"d":-3.2,"g":1},{"t":45,"d":-2.6,"g":1},{"t":33,"d":-2.7,"g":1},{"t":28,"d":-2.0,"g":1},{"t":75,"d":-14.8,"g":0},{"t":62,"d":-14.9,"g":0},{"t":43,"d":-14.6,"g":0},{"t":95,"d":-14.9,"g":0},{"t":38,"d":-14.2,"g":0},{"t":124,"d":-9.4,"g":1},
  {"t":31.8,"d":-3.6,"g":1},{"t":33.6,"d":-4.2,"g":1},{"t":35.2,"d":-5.0,"g":1},{"t":36.8,"d":-5.8,"g":1},{"t":38.2,"d":-6.4,"g":1},{"t":39.6,"d":-7.2,"g":1},{"t":41.2,"d":-7.0,"g":1},{"t":42.6,"d":-8.0,"g":1},{"t":44.2,"d":-8.8,"g":1},{"t":35.8,"d":-8.4,"g":1},{"t":33.2,"d":-9.2,"g":1},{"t":37.6,"d":-10.6,"g":1},{"t":40.2,"d":-11.6,"g":1},{"t":42.4,"d":-9.8,"g":1},{"t":44.6,"d":-10.6,"g":1},{"t":43.8,"d":-4.8,"g":1},{"t":39.8,"d":-3.8,"g":1},{"t":34.6,"d":-11.8,"g":1},{"t":41.6,"d":-13.0,"g":1},{"t":45.4,"d":-13.0,"g":1},
  {"t":46.6,"d":-4.0,"g":1},{"t":48.4,"d":-3.6,"g":1},{"t":50.6,"d":-4.6,"g":1},{"t":52.4,"d":-5.4,"g":1},{"t":54.6,"d":-4.4,"g":1},{"t":56.8,"d":-5.4,"g":1},{"t":58.6,"d":-6.6,"g":1},{"t":47.6,"d":-8.0,"g":1},{"t":49.6,"d":-9.2,"g":1},{"t":51.6,"d":-8.2,"g":1},{"t":53.6,"d":-7.4,"g":1},{"t":55.6,"d":-8.8,"g":1},{"t":57.6,"d":-11.4,"g":1},{"t":59.6,"d":-9.8,"g":1},{"t":47.2,"d":-10.6,"g":1},{"t":50.8,"d":-11.8,"g":1},{"t":53.2,"d":-12.6,"g":1},{"t":56.4,"d":-10.2,"g":1},{"t":58.8,"d":-13.2,"g":1},{"t":48.6,"d":-12.8,"g":1},
  {"t":61.6,"d":-5.0,"g":1},{"t":63.6,"d":-3.8,"g":1},{"t":65.6,"d":-4.8,"g":1},{"t":67.6,"d":-5.6,"g":1},{"t":69.6,"d":-6.8,"g":1},{"t":71.6,"d":-7.6,"g":1},{"t":73.6,"d":-5.4,"g":1},{"t":75.6,"d":-6.4,"g":1},{"t":77.6,"d":-8.4,"g":1},{"t":79.6,"d":-7.8,"g":1},{"t":62.6,"d":-7.6,"g":1},{"t":64.6,"d":-8.2,"g":1},{"t":66.6,"d":-9.4,"g":1},{"t":68.6,"d":-10.4,"g":1},{"t":70.6,"d":-11.6,"g":1},{"t":72.6,"d":-10.8,"g":1},{"t":74.6,"d":-11.6,"g":1},{"t":76.6,"d":-12.6,"g":1},{"t":78.6,"d":-10.0,"g":1},{"t":64,"d":-12.8,"g":1},{"t":68,"d":-12.2,"g":1},{"t":72,"d":-13.6,"g":1},{"t":76,"d":-13.6,"g":1},
  {"t":81.5,"d":-5.8,"g":1},{"t":83.5,"d":-6.8,"g":1},{"t":85.5,"d":-4.6,"g":1},{"t":87.5,"d":-5.4,"g":1},{"t":89.5,"d":-7.2,"g":1},{"t":91.5,"d":-8.4,"g":1},{"t":93.5,"d":-6.0,"g":1},{"t":95.5,"d":-7.6,"g":1},{"t":97.5,"d":-9.2,"g":1},{"t":99.5,"d":-8.6,"g":1},{"t":82.5,"d":-9.4,"g":1},{"t":84.5,"d":-10.8,"g":1},{"t":86.5,"d":-12.2,"g":1},{"t":88.5,"d":-11.6,"g":1},{"t":90.5,"d":-9.8,"g":1},{"t":92.5,"d":-11.0,"g":1},{"t":94.5,"d":-10.4,"g":1},{"t":96.5,"d":-12.6,"g":1},{"t":98.5,"d":-11.8,"g":1},{"t":91,"d":-13.8,"g":1},{"t":97,"d":-14.0,"g":1},{"t":83,"d":-13.4,"g":1},
  {"t":101.5,"d":-4.0,"g":1},{"t":103.5,"d":-5.0,"g":1},{"t":105.5,"d":-6.8,"g":1},{"t":107.5,"d":-6.0,"g":1},{"t":109.5,"d":-7.4,"g":1},{"t":111.5,"d":-8.4,"g":1},{"t":113.5,"d":-9.8,"g":1},{"t":115.5,"d":-7.2,"g":1},{"t":117.5,"d":-8.0,"g":1},{"t":119.5,"d":-6.0,"g":1},{"t":121.5,"d":-7.6,"g":1},{"t":123,"d":-5.6,"g":1},{"t":104,"d":-9.0,"g":1},{"t":106,"d":-10.2,"g":1},{"t":108,"d":-11.6,"g":1},{"t":110,"d":-10.8,"g":1},{"t":112,"d":-13.4,"g":1},{"t":114,"d":-10.2,"g":1},{"t":116,"d":-11.0,"g":1},{"t":118,"d":-13.0,"g":1},{"t":120,"d":-11.0,"g":1},{"t":122,"d":-12.0,"g":1},{"t":124,"d":-13.8,"g":1},{"t":105,"d":-13.0,"g":1},{"t":107,"d":-12.4,"g":1},{"t":121,"d":-4.0,"g":1},{"t":117,"d":-3.3,"g":1},{"t":113,"d":-3.6,"g":1},{"t":103,"d":-3.0,"g":1},{"t":92,"d":-3.4,"g":1},
  {"t":22.5,"d":-13.8,"g":0},{"t":24.5,"d":-14.2,"g":0},{"t":26.5,"d":-12.8,"g":0},{"t":29.5,"d":-13.8,"g":0},{"t":31.8,"d":-13.6,"g":0},{"t":36.2,"d":-14.6,"g":0},{"t":40.8,"d":-14.8,"g":0},{"t":45.8,"d":-14.2,"g":0},{"t":51.5,"d":-14.5,"g":0},{"t":55.5,"d":-14.8,"g":0},{"t":59,"d":-14.9,"g":0},{"t":64.5,"d":-14.5,"g":0},{"t":69.5,"d":-14.8,"g":0},{"t":73.5,"d":-14.6,"g":0},{"t":78,"d":-14.9,"g":0},{"t":83.5,"d":-14.7,"g":0},{"t":87.5,"d":-14.4,"g":0},{"t":92.5,"d":-14.7,"g":0},{"t":98,"d":-14.8,"g":0},{"t":108,"d":-14.8,"g":0},{"t":114,"d":-14.3,"g":0},{"t":118,"d":-14.7,"g":0},{"t":123,"d":-14.8,"g":0},{"t":27.5,"d":-14.6,"g":0},{"t":30.5,"d":-14.4,"g":0},
  {"t":11.6,"d":-9.6,"g":0},{"t":12.8,"d":-8.6,"g":0},{"t":13.6,"d":-9.8,"g":0},{"t":14.8,"d":-7.6,"g":0},{"t":15.6,"d":-8.4,"g":0},{"t":16.2,"d":-9.2,"g":0},{"t":17.4,"d":-6.6,"g":0},{"t":18.2,"d":-7.8,"g":0},{"t":19.6,"d":-6.8,"g":0},{"t":20.4,"d":-8.8,"g":0},{"t":21.8,"d":-7.4,"g":0},{"t":22.6,"d":-11.0,"g":0},{"t":23.6,"d":-8.8,"g":0},{"t":24.8,"d":-11.8,"g":0},{"t":26.4,"d":-9.8,"g":0},{"t":27.8,"d":-10.4,"g":0},{"t":28.8,"d":-12.4,"g":0},{"t":19.8,"d":-9.4,"g":0},{"t":16.8,"d":-11.8,"g":0},{"t":14.2,"d":-10.6,"g":0},{"t":13,"d":-12.2,"g":0},{"t":12.4,"d":-11.2,"g":0},{"t":11.2,"d":-7.2,"g":0},{"t":10.4,"d":-9.2,"g":0},{"t":25.2,"d":-6.6,"g":0},{"t":22,"d":-4.4,"g":0},{"t":20,"d":-5.2,"g":0},{"t":16.2,"d":-3.4,"g":0},{"t":14.4,"d":-4.0,"g":0},{"t":11.4,"d":-2.2,"g":0},
  {"t":18.8,"d":-4.2,"g":1},{"t":20.8,"d":-3.6,"g":1},{"t":22.8,"d":-4.8,"g":1},{"t":24.8,"d":-5.8,"g":1},{"t":26.8,"d":-6.6,"g":1},{"t":28.8,"d":-7.4,"g":1},{"t":25.8,"d":-2.6,"g":1},{"t":23.2,"d":-3.2,"g":1},{"t":19.6,"d":-2.4,"g":1},{"t":28.2,"d":-5.2,"g":1},{"t":26.2,"d":-8.0,"g":1},{"t":29.4,"d":-4.2,"g":1},{"t":17.2,"d":-4.4,"g":1},{"t":15.8,"d":-3.0,"g":1},{"t":13.4,"d":-3.6,"g":1}
 ],
 "distAll":[
  {"d":0,"f":0},{"d":-0.64,"f":0.018},{"d":-1.65,"f":0.053},{"d":-2.8,"f":0.095},{"d":-3.54,"f":0.12},{"d":-5.7,"f":0.145},{"d":-8.1,"f":0.178},{"d":-10.3,"f":0.124},{"d":-12.1,"f":0.081},{"d":-13.4,"f":0.039},{"d":-14.3,"f":0.009},{"d":-14.7,"f":0}
 ],
 "distGlac":[
  {"d":-0.1,"f":0},{"d":-1.36,"f":0.011},{"d":-3.1,"f":0.025},{"d":-5.1,"f":0.046},{"d":-6.6,"f":0.064},{"d":-8.26,"f":0.079},{"d":-9.3,"f":0.077},{"d":-10.9,"f":0.053},{"d":-12.4,"f":0.025},{"d":-13.2,"f":0}
 ]
},
"spacing":16,
"resolve":{"scale":{"color":"independent","fill":"independent","stroke":"independent","strokeDash":"independent","shape":"independent"}},
"vconcat":[
 {"hconcat":[
  {"vconcat":[
   {"width":221,"height":136,
    "title":{"text":"a","dx":-72},
    "layer":[
     {"data":{"name":"temp"},"mark":{"type":"line","color":"black","strokeWidth":1.8,"clip":true},
      "encoding":{
       "x":{"field":"t","type":"quantitative","scale":{"domain":[-25000000,150000000],"nice":false,"zero":false},"axis":null},
       "y":{"field":"v","type":"quantitative","scale":{"domain":[-10,21.9],"nice":false,"zero":false},"axis":{"values":[-10,0,10,20],"title":"Temperature (°C)","titlePadding":9}},
       "order":{"field":"i","type":"quantitative"},
       "strokeDash":{"field":"s","type":"nominal","scale":{"domain":["a","b"],"range":[[1,0],[6,3]]},"legend":null}
      }},
     {"data":{"values":[{"t":100000000,"v":16.4,"label":"MT"},{"t":4300000,"v":-7.0,"label":"MG-AG-AT"}]},
      "mark":{"type":"text","fontSize":14,"color":"black","baseline":"middle","align":"center"},
      "encoding":{"x":{"field":"t","type":"quantitative"},"y":{"field":"v","type":"quantitative"},"text":{"field":"label"}}},
     {"data":{"values":[{"t":100000000,"v":12.2,"k":"down"},{"t":0,"v":-2.1,"k":"up"}]},
      "mark":{"type":"point","filled":true,"color":"black","opacity":1,"size":110},
      "encoding":{"x":{"field":"t","type":"quantitative"},"y":{"field":"v","type":"quantitative"},"shape":{"field":"k","type":"nominal","scale":{"domain":["down","up"],"range":["triangle-down","triangle-up"]},"legend":null}}},
     {"data":{"values":[{"t":93000000,"v0":1.0,"v1":-8.6}]},
      "mark":{"type":"rule","color":"#1ca9e1","strokeWidth":1.5},
      "encoding":{"x":{"field":"t","type":"quantitative"},"y":{"field":"v0","type":"quantitative"},"y2":{"field":"v1"}}},
     {"data":{"values":[{"t":93000000,"v":0.3,"k":"up"},{"t":93000000,"v":-7.9,"k":"down"}]},
      "mark":{"type":"point","filled":true,"color":"#1ca9e1","opacity":1,"size":30},
      "encoding":{"x":{"field":"t","type":"quantitative"},"y":{"field":"v","type":"quantitative"},"shape":{"field":"k","type":"nominal","scale":{"domain":["down","up"],"range":["triangle-down","triangle-up"]},"legend":null}}},
     {"data":{"values":[{"t":80000000,"v":-4.0,"label":"ΔT"}]},
      "mark":{"type":"text","fontSize":14,"color":"#1ca9e1","fontStyle":"italic","baseline":"middle","align":"center"},
      "encoding":{"x":{"field":"t","type":"quantitative"},"y":{"field":"v","type":"quantitative"},"text":{"field":"label"}}}
    ]},
   {"width":221,"height":141,
    "layer":[
     {"data":{"name":"mix"},"mark":{"type":"line","strokeWidth":1.5,"clip":true},
      "encoding":{
       "x":{"field":"t","type":"quantitative","scale":{"domain":[-25000000,150000000],"nice":false,"zero":false},"axis":{"values":[0,50000000,100000000,150000000],"labelExpr":"datum.value == 0 ? '0' : datum.value == 50000000 ? '5 × 10⁷' : datum.value == 100000000 ? '10⁸' : '1.5 × 10⁸'","title":"Time (year)","labelPadding":9,"titlePadding":6}},
       "y":{"field":"v","type":"quantitative","scale":{"type":"log","domain":[470,245000],"nice":false},"axis":{"values":[500,600,700,800,900,1000,2000,3000,4000,5000,6000,7000,8000,9000,10000,20000,30000,40000,50000,60000,70000,80000,90000,100000,200000],"labelExpr":"datum.value == 1000 ? '10³' : datum.value == 10000 ? '10⁴' : datum.value == 100000 ? '10⁵' : ''","tickSize":{"condition":{"test":"datum.value == 1000 || datum.value == 10000 || datum.value == 100000","value":5},"value":3},"title":["Mixing ratios","(ppm)"],"titlePadding":6,"titleLineHeight":17}},
       "order":{"field":"i","type":"quantitative"},
       "color":{"field":"sp","type":"nominal","scale":{"domain":["CO2","CH4","H2","CO"],"range":["#ff2020","#2020ff","#ffa31a","#ff2bff"]},"legend":null},
       "strokeDash":{"field":"ls","type":"nominal","scale":{"domain":["s","d"],"range":[[1,0],[5,3]]},"legend":null}
      }},
     {"data":{"values":[{"t":146500000,"v":5395,"label":"CO₂","sp":"CO2"},{"t":146500000,"v":2836,"label":"CH₄","sp":"CH4"},{"t":146500000,"v":1490,"label":"H₂","sp":"H2"},{"t":146500000,"v":783,"label":"CO","sp":"CO"}]},
      "mark":{"type":"text","fontSize":14,"align":"right","baseline":"middle"},
      "encoding":{"x":{"field":"t","type":"quantitative"},"y":{"field":"v","type":"quantitative"},"text":{"field":"label"},"color":{"field":"sp","type":"nominal","legend":null}}}
    ]}
  ],"spacing":37,"bounds":"flush","resolve":{"scale":{"color":"independent","strokeDash":"independent","shape":"independent"}}},
  {"vconcat":[
   {"width":220,"height":67,"view":{"stroke":null},
    "title":{"text":"d","dx":-80},
    "data":{"values":[{"p0":0,"p1":1,"lab":"Probability"}]},
    "mark":{"type":"rect","stroke":"black","strokeWidth":1,"fill":{"gradient":"linear","stops":[{"offset":0,"color":"#000004"},{"offset":0.1,"color":"#160b39"},{"offset":0.2,"color":"#420a68"},{"offset":0.3,"color":"#6a176e"},{"offset":0.4,"color":"#932667"},{"offset":0.5,"color":"#bc3754"},{"offset":0.6,"color":"#dd513a"},{"offset":0.7,"color":"#f37819"},{"offset":0.8,"color":"#fca50a"},{"offset":0.9,"color":"#f6d746"},{"offset":1,"color":"#fcffa4"}]}},
    "encoding":{
     "x":{"field":"p0","type":"quantitative","scale":{"domain":[0,1],"nice":false},"axis":{"orient":"top","offset":-57,"values":[0,0.2,0.4,0.6,0.8,1],"format":"~g","domain":false,"title":"Probability","titlePadding":10,"labelPadding":5,"tickSize":4}},
     "x2":{"field":"p1"},
     "y":{"field":"lab","type":"nominal","scale":{"paddingInner":0.649,"paddingOuter":1,"align":1},"axis":null}
    }},
   {"width":220,"height":233,
    "data":{"name":"heat"},
    "mark":{"type":"rect","strokeWidth":0.5},
    "encoding":{
     "x":{"field":"x0","type":"quantitative","scale":{"domain":[0,21],"nice":false,"zero":false},"axis":{"values":[5,10,15,20],"title":"TGeo (°C)","titleFontStyle":"italic","titlePadding":5}},
     "x2":{"field":"x1"},
     "y":{"field":"y0","type":"quantitative","scale":{"type":"log","domain":[5.07e9,2.97e11],"nice":false},"axis":{"values":[1e10,1e11],"labelExpr":"datum.value > 5e10 ? '10¹¹' : '10¹⁰'","title":["ϕVolc(H₂)","(molecules cm⁻² s⁻¹)"],"titlePadding":15,"titleLineHeight":17}},
     "y2":{"field":"y1"},
     "color":{"field":"p","type":"quantitative","scale":{"scheme":"inferno","domain":[0,1]},"legend":null},
     "stroke":{"field":"p","type":"quantitative","scale":{"scheme":"inferno","domain":[0,1]},"legend":null}
    }}
  ],"spacing":14,"bounds":"flush","resolve":{"scale":{"color":"independent","stroke":"independent"}}}
 ],"spacing":31,"resolve":{"scale":{"color":"independent","fill":"independent","stroke":"independent","strokeDash":"independent","shape":"independent"}}},
 {"hconcat":[
  {"width":475,"height":189,
   "title":{"text":"b","dx":-72},
   "data":{"name":"pts"},
   "layer":[
    {"mark":{"type":"circle","size":40,"fill":"#ffa500","fillOpacity":0.55,"stroke":"#555555","strokeWidth":0.6,"strokeOpacity":0.6,"clip":true},
     "encoding":{
      "x":{"field":"t","type":"quantitative","scale":{"type":"log","domain":[0.05,125],"nice":false},"axis":{"values":[0.05,0.06,0.07,0.08,0.09,0.1,0.2,0.3,0.4,0.5,0.6,0.7,0.8,0.9,1,2,3,4,5,6,7,8,9,10,20,30,40,50,60,70,80,90,100],"labelExpr":"datum.value == 0.1 ? '0.1' : datum.value == 1 ? '1' : datum.value == 10 ? '10' : datum.value == 100 ? '100' : ''","title":"Time delay before evolution of MT (Myr)","titlePadding":13}},
      "y":{"field":"d","type":"quantitative","scale":{"domain":[-15,1.5],"nice":false,"zero":false},"axis":{"values":[0,-10],"title":"ΔT (°C)","titlePadding":10}}
     }},
    {"transform":[{"filter":"datum.g == 1"}],
     "mark":{"type":"circle","size":40,"fill":"#5cb8e0","fillOpacity":0.75,"stroke":"#555555","strokeWidth":0.6,"strokeOpacity":0.6,"clip":true},
     "encoding":{
      "x":{"field":"t","type":"quantitative"},
      "y":{"field":"d","type":"quantitative"}
     }}
   ]},
  {"vconcat":[
   {"width":95,"height":189,
    "title":{"text":"c","dx":0},
    "layer":[
     {"data":{"name":"distAll"},"mark":{"type":"area","orient":"horizontal","fill":"#fdc46b","stroke":"black","strokeWidth":0.8,"fillOpacity":1},
      "encoding":{
       "x":{"field":"f","type":"quantitative","scale":{"domain":[0,0.2],"nice":false},"axis":{"values":[0,0.2],"labelExpr":"datum.value == 0 ? '0' : '0.2'","title":null}},
       "x2":{"datum":0},
       "y":{"field":"d","type":"quantitative","scale":{"domain":[-15,1.5],"nice":false,"zero":false},"axis":{"orient":"right","values":[0,-10],"labelAlign":"center","labelPadding":14,"title":"ΔT (°C)","titlePadding":9}}
      }},
     {"data":{"name":"distGlac"},"mark":{"type":"area","orient":"horizontal","fill":"#8dcfe8","stroke":"black","strokeWidth":0.8,"fillOpacity":1},
      "encoding":{
       "x":{"field":"f","type":"quantitative"},
       "x2":{"datum":0},
       "y":{"field":"d","type":"quantitative"}
      }},
     {"data":{"values":[{"d":-8.26}]},"mark":{"type":"rule","strokeDash":[3,2],"color":"black","strokeWidth":0.8},
      "encoding":{"y":{"field":"d","type":"quantitative"}}},
     {"data":{"values":[{"f":0.124,"d":-7.68,"label":"Median"}]},"mark":{"type":"text","fontSize":11,"color":"black","baseline":"middle","align":"center"},
      "encoding":{"x":{"field":"f","type":"quantitative"},"y":{"field":"d","type":"quantitative"},"text":{"field":"label"}}}
    ]},
   {"width":153,"height":120,"view":{"stroke":null},
    "layer":[
     {"data":{"values":[{"x0":33,"x1":58,"y0":22.7,"y1":22.7},{"x0":33,"x1":33,"y0":22.7,"y1":26.5},{"x0":58,"x1":58,"y0":22.7,"y1":26.5},{"x0":58.5,"x1":58.5,"y0":54,"y1":64},{"x0":53.5,"x1":78,"y0":64,"y1":64},{"x0":32.5,"x1":32.5,"y0":54,"y1":99.3},{"x0":32.5,"x1":52.7,"y0":99.3,"y1":99.3}]},
      "mark":{"type":"rule","color":"#222222","strokeWidth":1},
      "encoding":{"x":{"field":"x0","type":"quantitative","scale":{"domain":[0,153],"nice":false,"zero":false},"axis":null},"x2":{"field":"x1"},"y":{"field":"y0","type":"quantitative","scale":{"domain":[0,120],"reverse":true,"nice":false,"zero":false},"axis":null},"y2":{"field":"y1"}}},
     {"data":{"values":[{"x0":27,"x1":38,"y0":31,"y1":50,"c":"glac"},{"x0":53,"x1":64,"y0":31,"y1":50,"c":"all"}]},
      "mark":{"type":"rect","stroke":"#444444","strokeWidth":1},
      "encoding":{"x":{"field":"x0","type":"quantitative"},"x2":{"field":"x1"},"y":{"field":"y0","type":"quantitative"},"y2":{"field":"y1"},"fill":{"field":"c","type":"nominal","scale":{"domain":["glac","all"],"range":["#8dcfe8","#fdba4f"]},"legend":null}}},
     {"data":{"values":[{"x":30,"y":9,"label":"Freq."},{"x":51,"y":77,"label":"All simulations"},{"x":27,"y":112.7,"label":"With glaciation only"}]},
      "mark":{"type":"text","fontSize":14,"align":"left","baseline":"middle","color":"black"},
      "encoding":{"x":{"field":"x","type":"quantitative"},"y":{"field":"y","type":"quantitative"},"text":{"field":"label"}}}
    ]}
  ],"spacing":51,"bounds":"flush","resolve":{"scale":{"fill":"independent"}}}
 ],"spacing":5,"resolve":{"scale":{"color":"independent","fill":"independent","stroke":"independent","strokeDash":"independent","shape":"independent"}}}
]
}
